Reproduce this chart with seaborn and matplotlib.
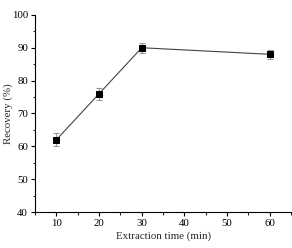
import matplotlib
matplotlib.use("Agg")
import matplotlib.pyplot as plt
import seaborn as sns
import pandas as pd
from matplotlib.ticker import MultipleLocator

times = [10, 20, 30, 60]
recovery = [62, 76, 90, 88]
errors = [2.0, 1.8, 1.5, 1.3]

sns.set_theme(style="ticks")
plt.rcParams['font.family'] = ['Liberation Serif', 'DejaVu Serif']

df = pd.DataFrame({"time": times, "recovery": recovery})

fig = plt.figure(figsize=(2.92, 2.48), dpi=100)
ax = fig.add_axes([0.12, 0.145, 0.877, 0.795])
ax.errorbar(times, recovery, yerr=errors, fmt='none', ecolor='#999999',
            elinewidth=0.8, capsize=2, capthick=0.8, zorder=2)
sns.lineplot(data=df, x="time", y="recovery", ax=ax, color='#444444',
             linewidth=0.8, marker='s', markersize=4.5, markerfacecolor='black',
             markeredgecolor='black', zorder=3)
ax.set_xlim(5, 65)
ax.set_ylim(40, 100)
ax.xaxis.set_major_locator(MultipleLocator(10))
ax.xaxis.set_minor_locator(MultipleLocator(5))
ax.yaxis.set_major_locator(MultipleLocator(10))
ax.yaxis.set_minor_locator(MultipleLocator(5))
ax.tick_params(which='major', length=3, width=0.8, labelsize=7.8, pad=2, colors='black')
ax.tick_params(which='minor', length=1.8, width=0.8)
ax.set_xlabel("Extraction time (min)", fontsize=7.8, labelpad=2.5)
ax.set_ylabel("Recovery (%)", fontsize=7.8)
ax.yaxis.set_label_coords(-0.088, 0.5)
for s in ['top', 'right']:
    ax.spines[s].set_visible(False)
for s in ['left', 'bottom']:
    ax.spines[s].set_linewidth(0.8)
    ax.spines[s].set_color('black')
fig.savefig("out.png", dpi=100)
